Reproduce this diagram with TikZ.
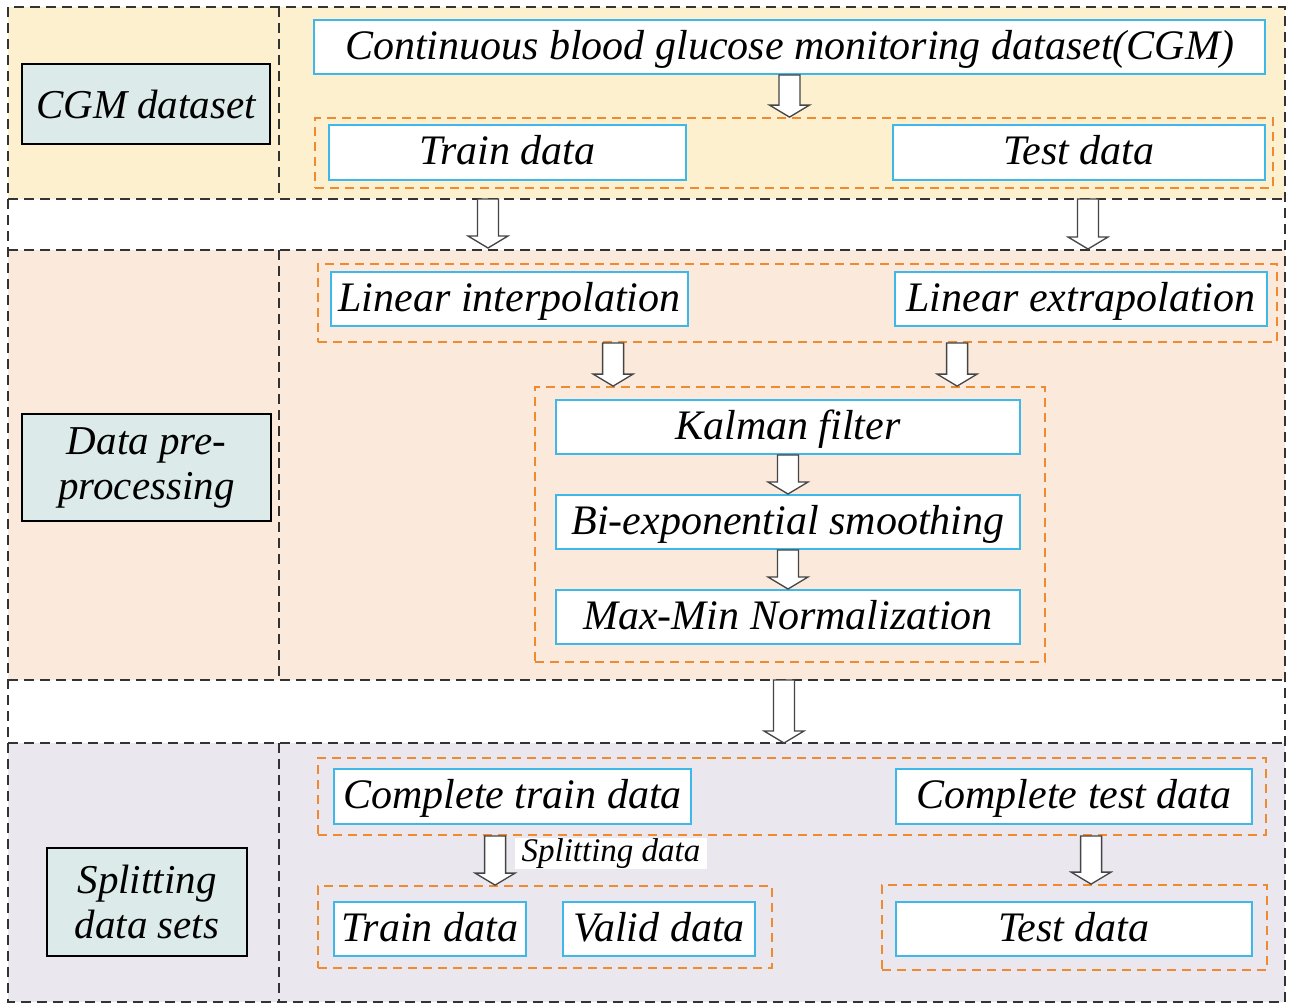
\documentclass[tikz,border=0pt]{standalone}
\usepackage{fontspec}
\setmainfont{Liberation Serif}
\usetikzlibrary{calc}
\definecolor{bandA}{HTML}{FDF0CF}
\definecolor{bandB}{HTML}{FBE9DB}
\definecolor{bandC}{HTML}{EBE7EF}
\definecolor{labfill}{HTML}{DCEAEA}
\definecolor{cyanb}{HTML}{3DB8E8}
\definecolor{orng}{HTML}{F08A30}
\definecolor{dgray}{HTML}{333333}
\definecolor{agray}{HTML}{444444}
\newcommand\blockarr[2]{\draw[blk] let \p1=(#1), \p2=(#2) in
  (\x1-10.5pt,\y1) -- (\x1+10.5pt,\y1) -- (\x1+10.5pt,\y2+12pt) -- (\x1+20pt,\y2+12pt)
  -- (\x1,\y2) -- (\x1-20pt,\y2+12pt) -- (\x1-10.5pt,\y2+12pt) -- cycle;}
\begin{document}
\begin{tikzpicture}[x=1pt,y=-1pt,
  box/.style={draw=cyanb, line width=2pt, fill=white, inner sep=0pt, minimum height=54pt,
    text height=33pt, text depth=9pt,
    font=\fontsize{42}{48}\selectfont\itshape},
  lab/.style={draw=black, line width=2pt, fill=labfill, inner sep=0pt, align=center,
    font=\fontsize{41}{45}\selectfont\itshape},
  grp/.style={draw=orng, dash pattern=on 9pt off 6pt, line width=1.8pt, inner sep=0pt},
  sep/.style={draw=dgray, dash pattern=on 10pt off 6pt, line width=1.5pt},
  blk/.style={draw=agray, fill=white, line width=1.3pt}]
\useasboundingbox (0,0) rectangle (1291,1004);
\fill[white] (0,0) rectangle (1291,1004);
% bands
\fill[bandA] (8,7) rectangle (1285,199);
\fill[bandB] (8,250) rectangle (1285,680);
\fill[bandC] (8,743) rectangle (1285,1002);
\draw[sep] (8,7) rectangle (1285,1002);
\draw[sep] (8,199) -- (1285,199);
\draw[sep] (8,250) -- (1285,250);
\draw[sep] (8,680) -- (1285,680);
\draw[sep] (8,743) -- (1285,743);
\draw[sep] (279,7) -- (279,199);
\draw[sep] (279,250) -- (279,680);
\draw[sep] (279,743) -- (279,1002);
% left labels
\node[lab, minimum width=248pt, minimum height=80pt] (l1) at (146,104) {CGM dataset};
\node[lab, minimum width=249pt, minimum height=107pt] (l2) at (146.5,467.5) {Data pre-\\processing};
\node[lab, minimum width=200pt, minimum height=108pt] (l3) at (147,902) {Splitting\\data sets};
% band 1
\node[grp, minimum width=958pt, minimum height=70pt] (g1) at (794,153) {};
\node[box, minimum width=951pt] (cgm) at (789.5,47) {Continuous blood glucose monitoring dataset(CGM)};
\node[box, minimum width=357pt, minimum height=55pt] (tr1) at (507.5,152.5) {Train data};
\node[box, minimum width=372pt, minimum height=55pt] (te1) at (1079,152.5) {Test data};
% band 2
\node[grp, minimum width=959pt, minimum height=78pt] (g2) at (797.5,303) {};
\node[box, minimum width=357pt] (li) at (509.5,299) {Linear interpolation};
\node[box, minimum width=372pt] (le) at (1081,299) {Linear extrapolation};
\node[grp, minimum width=510pt, minimum height=275pt] (g3) at (790,524.5) {};
\node[box, minimum width=464pt] (kf) at (788,427) {Kalman filter};
\node[box, minimum width=464pt] (be) at (788,522) {Bi-exponential smoothing};
\node[box, minimum width=464pt] (mm) at (788,617) {Max-Min Normalization};
% band 3
\node[grp, minimum width=948pt, minimum height=77pt] (g4) at (792,796.5) {};
\node[box, minimum width=357pt, minimum height=55pt] (ctr) at (512.5,796.5) {Complete train data};
\node[box, minimum width=356pt, minimum height=55pt] (cte) at (1074,796.5) {Complete test data};
\node[grp, minimum width=454pt, minimum height=82pt] (g5) at (545,927) {};
\node[box, minimum width=192pt] (tr2) at (430,929) {Train data};
\node[box, minimum width=192pt] (va) at (659,929) {Valid data};
\node[grp, minimum width=385pt, minimum height=85pt] (g6) at (1074.5,927.5) {};
\node[box, minimum width=356pt] (te2) at (1074,929) {Test data};
\node[fill=white, inner sep=0pt, minimum width=192pt, minimum height=30pt,
  text height=24pt, text depth=7pt,
  font=\fontsize{33}{36}\selectfont\itshape] (spl) at (611,853) {Splitting data};
% coordinates for arrow ends in gaps
\coordinate (a2s) at (488,199); \coordinate (a2e) at (488,248);
\coordinate (a3s) at (1088,199); \coordinate (a3e) at (1088,249);
\coordinate (a8s) at (784,680); \coordinate (a8e) at (784,743);
% arrows
\blockarr{cgm.south}{cgm.south |- g1.north}
\blockarr{a2s}{a2e}
\blockarr{a3s}{a3e}
\blockarr{$(g2.south west)+(296,0)$}{$(g3.north west)+(79,0)$}
\blockarr{$(g2.south west)+(640,0)$}{$(g3.north west)+(423,0)$}
\blockarr{kf.south}{be.north}
\blockarr{be.south}{mm.north}
\blockarr{a8s}{a8e}
\blockarr{$(g4.south west)+(178,0)$}{$(g5.north west)+(178,0)$}
\blockarr{$(g4.south west)+(774,0)$}{$(g6.north west)+(210,0)$}
\end{tikzpicture}
\end{document}
